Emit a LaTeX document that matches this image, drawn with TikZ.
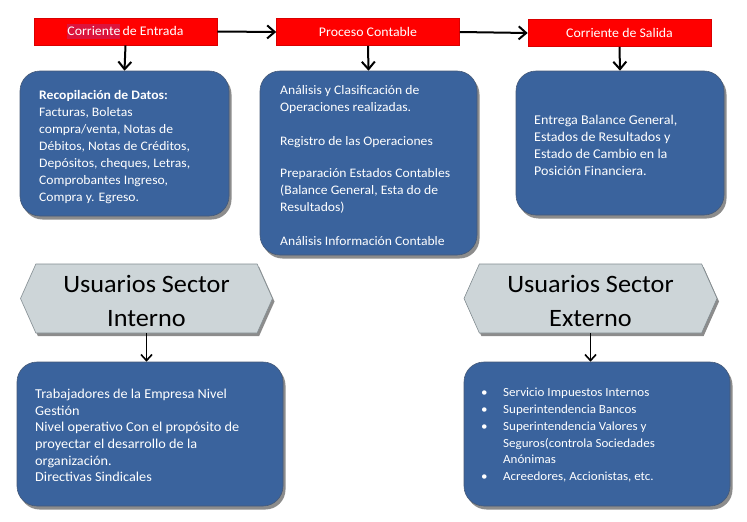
\documentclass[tikz,border=0pt]{standalone}
\usepackage{fontspec}
\setmainfont{Carlito}[FakeStretch=1.05]
\usetikzlibrary{shapes.symbols,shadows,arrows.meta}
\definecolor{boxblue}{RGB}{58,99,157}
\definecolor{boxedge}{RGB}{70,90,120}
\definecolor{hexfill}{RGB}{205,213,216}
\definecolor{hexedge}{RGB}{130,140,145}
\definecolor{hilite}{RGB}{220,20,60}
\begin{document}
\begin{tikzpicture}[x=1pt,y=-1pt,
  redbox/.style={fill=red, draw=red!85!black, line width=0.6pt, text=white, inner sep=0pt,
    minimum height=27pt, minimum width=183pt, font=\fontsize{13.2}{15}\selectfont},
  bluebox/.style={fill=boxblue, draw=boxedge, line width=0.6pt, rounded corners=20pt, inner sep=0pt,
    drop shadow={shadow xshift=2.5pt, shadow yshift=-3.5pt, opacity=.45, fill=black}},
  hexbox/.style={signal, signal to=west and east, signal pointer angle=132, fill=hexfill, draw=hexedge,
    line width=0.6pt, inner sep=0pt, minimum height=69pt,
    drop shadow={shadow xshift=2pt, shadow yshift=-3pt, opacity=.45, fill=black}},
  hextext/.style={font=\fontsize{25}{34}\selectfont, align=center, inner sep=0pt},
  bodytext/.style={text=white, align=left, inner sep=0pt, anchor=north west, font=\fontsize{13}{17}\selectfont},
  bigarrow/.style={line width=2pt, -{Straight Barb[length=7.5pt,width=13pt,line width=2pt]}},
  smallarrow/.style={line width=1.6pt, -{Straight Barb[length=6pt,width=11pt,line width=1.6pt]}}
]
\useasboundingbox (0,0) rectangle (747,522);
\fill[white] (0,0) rectangle (747,522);

% red header boxes
\node[redbox] (r1) at (125.5,31.5) {\colorbox{hilite}{\hspace*{-3pt}Corriente\hspace*{-3pt}}\hspace{-1pt} de Entrada};
\node[redbox] (r2) at (368,32) {Proceso Contable};
\node[redbox] (r3) at (619.5,33) {Corriente de Salida};

% blue boxes
\node[bluebox, minimum width=209pt, minimum height=145pt] (b1) at (124.5,143.5) {};
\node[bluebox, minimum width=217pt, minimum height=184pt] (b2) at (368.5,163) {};
\node[bluebox, minimum width=208pt, minimum height=144pt] (b3) at (620,143) {};

\node[bodytext] (t1) at (39,90.5) {\textbf{Recopilación de Datos:}\\
Facturas, Boletas\\
compra/venta, Notas de\\
Débitos, Notas de Créditos,\\
Depósitos, cheques, Letras,\\
Comprobantes Ingreso,\\
Compra y. Egreso.};

\node[bodytext] (t2) at (280,85) {Análisis y Clasificación de\\
Operaciones realizadas.\\[17pt]
Registro de las Operaciones\\[15pt]
Preparación Estados Contables\\
(Balance General, Esta do de\\
Resultados)\\[17pt]
Análisis Información Contable};

\node[bodytext, font=\fontsize{13.4}{17}\selectfont] (t3) at (534,115) {Entrega Balance General,\\
Estados de Resultados y\\
Estado de Cambio en la\\
Posición Financiera.};

% hexagons
\node[hexbox, minimum width=252pt] (h1) at (146.5,298.5) {};
\node[hexbox, minimum width=253pt] (h2) at (590.5,298.5) {};
\node[hextext] (h1t) at (146.5,300.5) {Usuarios Sector\\Interno};
\node[hextext] (h2t) at (590.5,300.5) {Usuarios Sector\\Externo};

% bottom boxes
\node[bluebox, minimum width=266pt, minimum height=144pt] (b4) at (150,434) {};
\node[bluebox, minimum width=266pt, minimum height=144pt] (b5) at (597,434) {};

\node[bodytext, font=\fontsize{13.6}{16.6}\selectfont] (t4) at (35,389) {Trabajadores de la Empresa Nivel\\
Gestión\\
Nivel operativo Con el propósito de\\
proyectar el desarrollo de la\\
organización.\\
Directivas Sindicales};

\node[bodytext, font=\fontsize{12.4}{16.8}\selectfont] (t5) at (481,388) {\makebox[22pt][l]{•}Servicio Impuestos Internos\\
\makebox[22pt][l]{•}Superintendencia Bancos\\
\makebox[22pt][l]{•}Superintendencia Valores y\\
\hspace*{22pt}Seguros(controla Sociedades\\
\hspace*{22pt}Anónimas\\
\makebox[22pt][l]{•}Acreedores, Accionistas, etc.};

% connectors
\draw[bigarrow] (r1.east) -- (r2.west);
\draw[bigarrow] (r2.east) -- (r3.west);
\draw[bigarrow] (r1.south) -- (b1.north);
\draw[bigarrow] (r2.south) -- (b2.north);
\draw[bigarrow] (r3.south) -- (b3.north);
\draw[smallarrow] (h1.south) -- (h1.south |- b4.north);
\draw[smallarrow] (h2.south) -- (h2.south |- b5.north);
\end{tikzpicture}
\end{document}
